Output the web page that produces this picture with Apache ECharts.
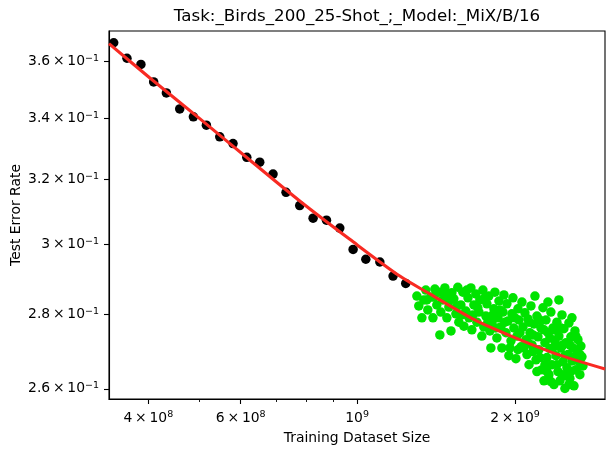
<!DOCTYPE html>
<html>
<head>
<meta charset="utf-8">
<script src="https://cdn.jsdelivr.net/npm/echarts@6/dist/echarts.min.js"></script>
<style>
  html, body { margin: 0; padding: 0; background: #fff; }
  #chart { width: 615px; height: 457px; }
</style>
</head>
<body>
<div id="chart"></div>
<script>
// 刻度
const xTicks = [4e8, 6e8, 1e9, 2e9];
const xTickText = [['4\u2009×\u200910', '8'], ['6\u2009×\u200910', '8'], ['10', '9'], ['2\u2009×\u200910', '9']];
const xMinorTicks = [5e8, 7e8, 8e8, 9e8];
const yTicks = [0.26, 0.28, 0.30, 0.32, 0.34, 0.36];
const yTickText = [['2.6\u2009×\u200910', '−1'], ['2.8\u2009×\u200910', '−1'], ['3\u2009×\u200910', '−1'],
  ['3.2\u2009×\u200910', '−1'], ['3.4\u2009×\u200910', '−1'], ['3.6\u2009×\u200910', '−1']];

// 黑点 (训练集大小, 错误率)
const blackSize = [3.435e8, 3.641e8, 3.871e8, 4.094e8, 4.329e8, 4.590e8, 4.874e8, 5.160e8, 5.472e8, 5.800e8, 6.161e8, 6.522e8,
  6.914e8, 7.320e8, 7.773e8, 8.243e8, 8.742e8, 9.268e8, 9.826e8, 1.039e9, 1.105e9, 1.171e9, 1.238e9];
const blackErr = [0.3666, 0.3610, 0.3588, 0.3526, 0.3488, 0.3433, 0.3406, 0.3378, 0.3339, 0.3317, 0.3272, 0.3256,
  0.3218, 0.3160, 0.3119, 0.3080, 0.3074, 0.3050, 0.2986, 0.2957, 0.2949, 0.2908, 0.2887];

// 拟合曲线
const fitSize = [3.365e8, 4.022e8, 5.012e8, 6.242e8, 7.774e8, 9.685e8, 1.206e9, 1.376e9, 1.677e9, 1.956e9, 2.394e9, 2.969e9];
const fitErr = [0.3663, 0.3541, 0.3400, 0.3263, 0.3133, 0.3016, 0.2908, 0.2857, 0.2784, 0.2741, 0.2692, 0.2652];

// 绿点, 大小以十亿为单位
const greenPoints = [
  [1.300,0.2851],[1.311,0.2823],[1.329,0.2790],[1.340,0.2840],[1.352,0.2868],[1.364,0.2812],[1.382,0.2848],[1.395,0.2790],
  [1.407,0.2871],[1.419,0.2826],[1.432,0.2862],[1.444,0.2806],[1.438,0.2743],[1.457,0.2840],[1.470,0.2874],[1.483,0.2790],
  [1.496,0.2820],[1.510,0.2754],[1.516,0.2860],[1.529,0.2843],[1.543,0.2801],[1.556,0.2876],[1.563,0.2778],[1.577,0.2826],
  [1.591,0.2862],[1.598,0.2767],[1.612,0.2809],[1.627,0.2846],[1.634,0.2790],[1.648,0.2874],[1.655,0.2757],[1.670,0.2826],
  [1.684,0.2857],[1.692,0.2778],[1.707,0.2806],[1.714,0.2840],[1.729,0.2740],[1.737,0.2868],[1.744,0.2765],[1.760,0.2795],
  [1.768,0.2829],[1.783,0.2851],[1.791,0.2754],[1.799,0.2708],[1.807,0.2778],[1.823,0.2815],[1.831,0.2862],[1.847,0.2735],
  [1.856,0.2790],[1.864,0.2837],[1.880,0.2765],[1.888,0.2708],[1.897,0.2806],[1.905,0.2854],[1.922,0.2749],[1.930,0.2829],
  [1.939,0.2781],[1.947,0.2687],[1.965,0.2727],[1.973,0.2801],[1.982,0.2846],[1.990,0.2762],[2.008,0.2679],[2.017,0.2740],
  [2.026,0.2815],[2.035,0.2784],[2.053,0.2711],[2.062,0.2834],[2.071,0.2765],[2.089,0.2804],[2.098,0.2730],[2.108,0.2690],
  [2.117,0.2787],[2.136,0.2749],[2.145,0.2823],[2.155,0.2716],[2.174,0.2773],[2.183,0.2851],[2.193,0.2676],[2.202,0.2795],
  [2.212,0.2738],[2.221,0.2703],[2.241,0.2762],[2.251,0.2650],[2.261,0.2818],[2.271,0.2621],[2.281,0.2722],[2.291,0.2784],
  [2.301,0.2682],[2.311,0.2749],[2.321,0.2637],[2.331,0.2706],[2.341,0.2806],[2.352,0.2663],[2.362,0.2762],[2.373,0.2611],
  [2.383,0.2727],[2.394,0.2687],[2.404,0.2778],[2.415,0.2645],[2.425,0.2740],[2.436,0.2621],[2.447,0.2708],[2.458,0.2798],
  [2.468,0.2671],[2.479,0.2760],[2.490,0.2601],[2.501,0.2722],[2.512,0.2655],[2.523,0.2690],[2.534,0.2776],[2.545,0.2627],
  [2.556,0.2738],[2.568,0.2673],[2.579,0.2708],[2.591,0.2608],[2.602,0.2754],[2.613,0.2650],[2.625,0.2698],[2.636,0.2730],
  [2.648,0.2671],[2.659,0.2637],[2.671,0.2713],[2.683,0.2684],[2.695,0.2660],[2.425,0.2840],[2.311,0.2834],[2.568,0.2790],
  [2.383,0.2757],[2.281,0.2663],[2.202,0.2645],[2.117,0.2722],[2.026,0.2703],[1.956,0.2708],[2.164,0.2698],[2.468,0.2716],
  [2.534,0.2611],[2.602,0.2684],[2.501,0.2634],[2.341,0.2619],[2.231,0.2682],[2.127,0.2663],
  [1.358,0.2840],[1.401,0.2848],[1.477,0.2854],[1.503,0.2840],[1.550,0.2823],[1.584,0.2798],[1.619,0.2868],[1.663,0.2798],
  [1.699,0.2818],[1.752,0.2846],[1.775,0.2778],[1.815,0.2798],[1.839,0.2762],[1.872,0.2812],[1.913,0.2778],[1.999,0.2790],
  [2.044,0.2749],[2.080,0.2708],[2.127,0.2778],[2.164,0.2743],[2.231,0.2784],[2.271,0.2757],[2.331,0.2735],[2.394,0.2716],
  [2.447,0.2762],[2.490,0.2687],[2.545,0.2716],[2.613,0.2740],[2.659,0.2690],[2.404,0.2663],[2.458,0.2637],[2.556,0.2645],
  [2.301,0.2645],[2.362,0.2708]
];

const FONT = 'DejaVu Sans';
const xMin = 3.365e8, xMax = 2.969e9;
const yMin = 0.2574, yMax = 0.3709;

// 找到刻度对应的文字
function tickIndex(list, v) {
  for (let i = 0; i < list.length; i++) {
    if (Math.abs(Math.log10(v) - Math.log10(list[i])) < 1e-6) return i;
  }
  return -1;
}
const richStyle = {
  m: { fontFamily: FONT, fontSize: 13.9, lineHeight: 16, color: '#000' },
  e: { fontFamily: FONT, fontSize: 9.5, lineHeight: 10, verticalAlign: 'top', color: '#000' }
};

const chart = echarts.init(document.getElementById('chart'), null, { renderer: 'canvas' });
const option = {
  animation: false,
  backgroundColor: '#fff',
  grid: {
    left: 109, right: 10, top: 31, bottom: 58, outerBoundsMode: 'none',
    show: true, borderColor: '#000', borderWidth: 1.1, backgroundColor: 'transparent'
  },
  graphic: [{
    type: 'text', x: 357, y: 25,
    style: { text: 'Task:_Birds_200_25-Shot_;_Model:_MiX/B/16', font: '16.7px "DejaVu Sans"', fill: '#000', align: 'center', verticalAlign: 'bottom' }
  }],
  xAxis: [{
    type: 'log', logBase: 10, min: xMin, max: xMax,
    name: 'Training Dataset Size', nameLocation: 'middle', nameGap: 32, nameMoveOverlap: false,
    nameTextStyle: { fontFamily: FONT, fontSize: 13.9, color: '#000' },
    axisLine: { lineStyle: { color: '#000', width: 1.1 } },
    axisTick: { length: 5, customValues: xTicks, lineStyle: { color: '#000', width: 1.1 } },
    axisLabel: {
      customValues: xTicks, margin: 11, color: '#000',
      formatter: v => { const t = xTickText[tickIndex(xTicks, v)]; return t ? '{m|' + t[0] + '}{e|' + t[1] + '}' : ''; },
      rich: richStyle
    },
    splitLine: { show: false }
  }, {
    type: 'log', logBase: 10, min: xMin, max: xMax, position: 'bottom',
    axisLine: { show: false },
    axisTick: { length: 3, customValues: xMinorTicks, lineStyle: { color: '#000', width: 0.9 } },
    axisLabel: { show: false },
    splitLine: { show: false }
  }],
  yAxis: {
    type: 'log', logBase: 10, min: yMin, max: yMax,
    name: 'Test Error Rate', nameLocation: 'middle', nameGap: 86, nameMoveOverlap: false,
    nameTextStyle: { fontFamily: FONT, fontSize: 13.9, color: '#000' },
    axisLine: { lineStyle: { color: '#000', width: 1.1 } },
    axisTick: { length: 5, customValues: yTicks, lineStyle: { color: '#000', width: 1.1 } },
    axisLabel: {
      customValues: yTicks, margin: 10, color: '#000',
      formatter: v => { const t = yTickText[tickIndex(yTicks, v)]; return t ? '{m|' + t[0] + '}{e|' + t[1] + '}' : ''; },
      rich: richStyle
    },
    splitLine: { show: false }
  },
  series: [{
    name: 'black', type: 'scatter', symbolSize: 9.5, z: 2,
    itemStyle: { color: '#000', opacity: 1 },
    data: blackSize.map((s, i) => [s, blackErr[i]])
  }, {
    name: 'green', type: 'scatter', symbolSize: 9.5, z: 3,
    itemStyle: { color: '#00e300', opacity: 1 },
    data: greenPoints.map(p => [p[0] * 1e9, p[1]])
  }, {
    name: 'fit', type: 'line', smooth: 0.3, showSymbol: false, z: 4,
    lineStyle: { color: '#f82a22', width: 3.1 },
    data: fitSize.map((s, i) => [s, fitErr[i]])
  }]
};
chart.setOption(option);
</script>
</body>
</html>
